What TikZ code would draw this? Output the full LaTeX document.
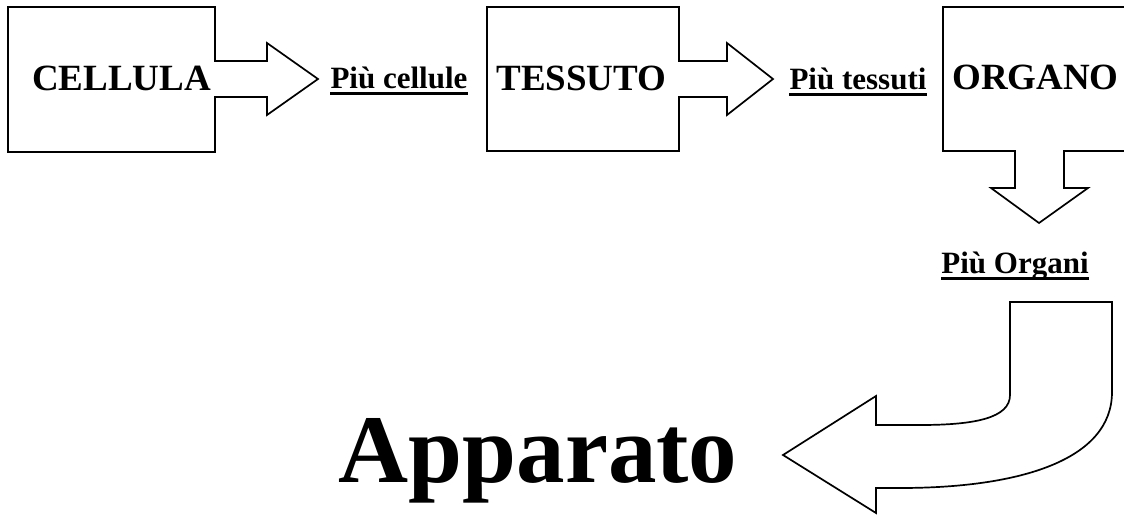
\documentclass[tikz,border=0pt]{standalone}
\usepackage{fontspec}
\setmainfont{Liberation Serif}
\begin{document}
\begin{tikzpicture}[x=1pt,y=-1pt,
  shapeline/.style={draw=black,line width=1.7pt,line join=miter,fill=white},
  bigtext/.style={font=\fontsize{37}{40}\selectfont\bfseries,inner sep=0pt,anchor=base},
  lbltext/.style={font=\fontsize{31}{34}\selectfont\bfseries,inner sep=0pt,anchor=base},
  huge/.style={font=\fontsize{97}{100}\selectfont\bfseries,inner sep=0pt,anchor=base},
  uline/.style={line width=3pt}]
\useasboundingbox (0,0) rectangle (1124,517);
\clip (0,0) rectangle (1124,517);
% CELLULA callout
\draw[shapeline] (8,7) -- (215,7) -- (215,61) -- (267,61) -- (267,43) -- (318,79)
  -- (267,115) -- (267,97) -- (215,97) -- (215,152) -- (8,152) -- cycle;
% TESSUTO callout
\draw[shapeline] (487,7) -- (679,7) -- (679,61) -- (727,61) -- (727,43) -- (773,79)
  -- (727,115) -- (727,97) -- (679,97) -- (679,151) -- (487,151) -- cycle;
% ORGANO callout
\draw[shapeline] (1140,7) -- (943,7) -- (943,151) -- (1015,151) -- (1015,188) -- (991,188)
  -- (1039,223) -- (1088,188) -- (1064,188) -- (1064,151) -- (1140,151);
% curved arrow
\draw[shapeline] (1010,302) -- (1112,302) -- (1112,392)
  .. controls (1112,460) and (1020,488) .. (900,488) -- (876,488) -- (876,513)
  -- (783,455) -- (876,396) -- (876,425) -- (920,425)
  .. controls (975,425) and (1010,418) .. (1010,395) -- cycle;
% texts
\node[bigtext] (cellula) at (121.5,90) {CELLULA};
\node[bigtext] (tessuto) at (581.5,90) {TESSUTO};
\node[bigtext] (organo) at (1035.5,89) {ORGANO};
\node[lbltext] (pc) at (399,88) {Più cellule};
\node[lbltext] (pt) at (858,89) {Più tessuti};
\node[lbltext] (po) at (1015,273) {Più Organi};
\node[huge] (app) at (538,482) {Apparato};
\foreach \n in {pc,pt,po}
  \draw[uline] ([yshift=-5.5pt]\n.base west) -- ([yshift=-5.5pt]\n.base east);
\end{tikzpicture}
\end{document}
